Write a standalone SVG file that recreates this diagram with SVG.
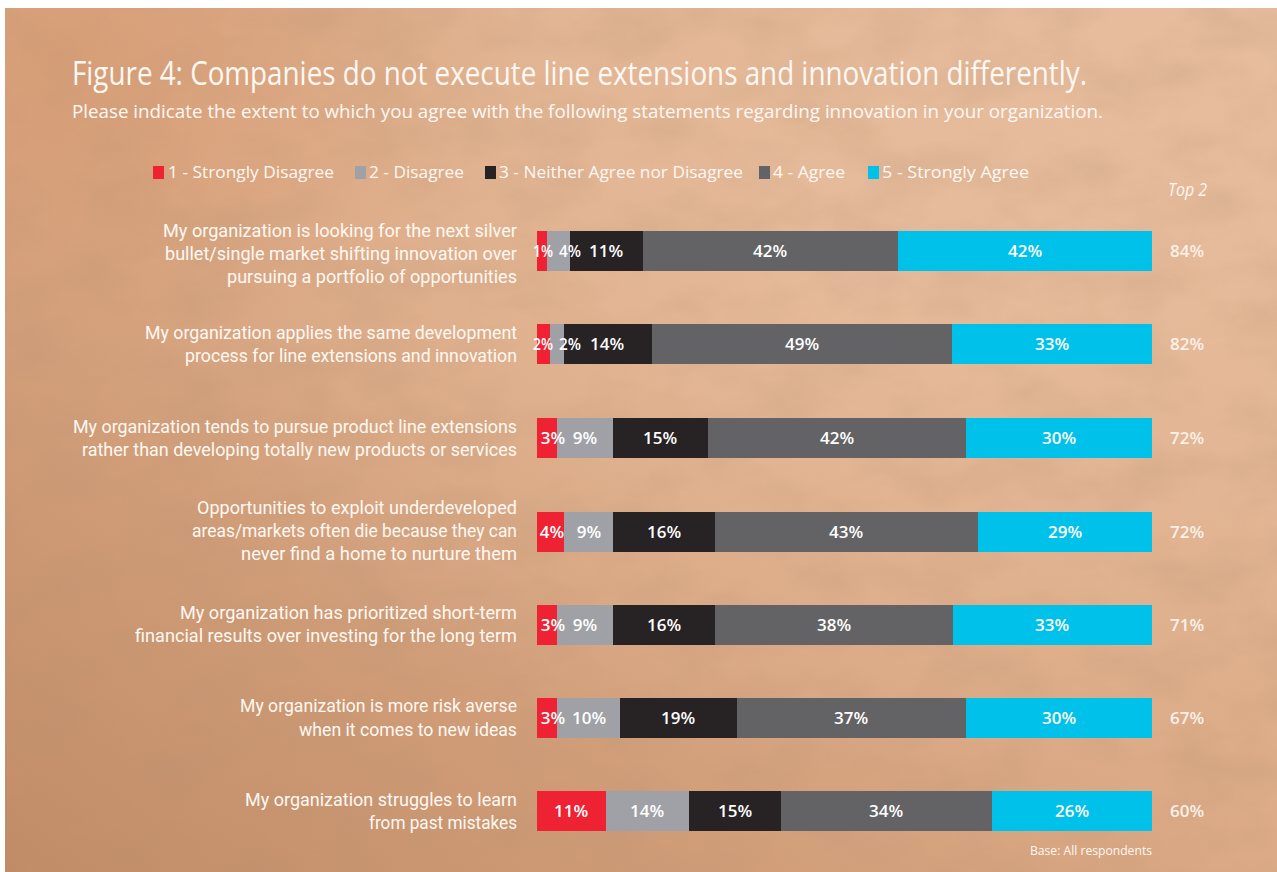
<svg xmlns="http://www.w3.org/2000/svg" width="1277" height="872" viewBox="0 0 1277 872">
<defs>
<linearGradient id="bg" x1="1" y1="0" x2="0" y2="1">
<stop offset="0" stop-color="#E6BC9C"/>
<stop offset="0.5" stop-color="#DCAA86"/>
<stop offset="1" stop-color="#C18C67"/>
</linearGradient>
<radialGradient id="hl" cx="0.7" cy="0.3" r="0.6">
<stop offset="0" stop-color="#EBC4A6" stop-opacity="0.55"/>
<stop offset="1" stop-color="#EBC4A6" stop-opacity="0"/>
</radialGradient>
<radialGradient id="tl" cx="0.05" cy="0.05" r="0.35">
<stop offset="0" stop-color="#D4976E" stop-opacity="0.6"/>
<stop offset="1" stop-color="#D4976E" stop-opacity="0"/>
</radialGradient>
<filter id="noise" x="0" y="0" width="100%" height="100%">
<feTurbulence type="fractalNoise" baseFrequency="0.012 0.02" numOctaves="4" seed="7"/>
<feColorMatrix type="matrix" values="0 0 0 0 0.45  0 0 0 0 0.28  0 0 0 0 0.16  0 0 0 -1.2 0.75"/>
</filter>
</defs>
<style>
.t{fill:#FFF8F2;font-family:"Open Sans","Liberation Sans",sans-serif}
.lab{fill:#FFF8F2;font-family:Roboto,"Liberation Sans",sans-serif;font-size:17.5px;text-anchor:end}
.pct{fill:#FFFFFF;font-family:"Open Sans","Liberation Sans",sans-serif;font-size:17px;font-weight:600;text-anchor:middle}
.top{fill:#FBF1E8;font-family:"Open Sans","Liberation Sans",sans-serif;font-size:17px;font-weight:600;text-anchor:middle}
.c1{fill:#EE2233}.c2{fill:#A0A1A6}.c3{fill:#272325}.c4{fill:#636365}.c5{fill:#00C1E9}
</style>
<rect x="0" y="0" width="1277" height="872" fill="#FFFFFF"/>
<rect x="5" y="8" width="1272" height="864" fill="url(#bg)"/>
<rect x="5" y="8" width="1272" height="864" fill="url(#hl)"/>
<rect x="5" y="8" width="1272" height="864" fill="url(#tl)"/>
<rect x="5" y="8" width="1272" height="864" filter="url(#noise)" opacity="0.35"/>

<g id="title">
<text class="t" x="72" y="85" font-size="32" textLength="1015" lengthAdjust="spacingAndGlyphs">Figure 4: Companies do not execute line extensions and innovation differently.</text>
<text class="t" x="72" y="118" font-size="18" textLength="1031" lengthAdjust="spacingAndGlyphs">Please indicate the extent to which you agree with the following statements regarding innovation in your organization.</text>
</g>

<g id="legend">
<rect class="c1" x="153" y="166" width="11" height="13"/>
<text class="t" x="168" y="178" font-size="17" textLength="166" lengthAdjust="spacingAndGlyphs">1 - Strongly Disagree</text>
<rect class="c2" x="355" y="166" width="11" height="13"/>
<text class="t" x="369" y="178" font-size="17" textLength="95" lengthAdjust="spacingAndGlyphs">2 - Disagree</text>
<rect class="c3" x="485" y="166" width="11" height="13"/>
<text class="t" x="499" y="178" font-size="17" textLength="244" lengthAdjust="spacingAndGlyphs">3 - Neither Agree nor Disagree</text>
<rect class="c4" x="759" y="166" width="11" height="13"/>
<text class="t" x="773" y="178" font-size="17" textLength="72" lengthAdjust="spacingAndGlyphs">4 - Agree</text>
<rect class="c5" x="868" y="166" width="11" height="13"/>
<text class="t" x="882" y="178" font-size="17" textLength="147" lengthAdjust="spacingAndGlyphs">5 - Strongly Agree</text>
<text class="t" x="1168" y="196" font-size="18" font-style="italic" textLength="39" lengthAdjust="spacingAndGlyphs">Top 2</text>
</g>

<g id="row1">
<text class="lab" x="517" y="237" textLength="354" lengthAdjust="spacingAndGlyphs">My organization is looking for the next silver</text>
<text class="lab" x="517" y="260" textLength="352" lengthAdjust="spacingAndGlyphs">bullet/single market shifting innovation over</text>
<text class="lab" x="517" y="283" textLength="290" lengthAdjust="spacingAndGlyphs">pursuing a portfolio of opportunities</text>
<rect class="c1" x="537" y="231" width="10" height="40"/>
<rect class="c2" x="547" y="231" width="23" height="40"/>
<rect class="c3" x="570" y="231" width="73" height="40"/>
<rect class="c4" x="643" y="231" width="255" height="40"/>
<rect class="c5" x="898" y="231" width="254" height="40"/>
<text class="pct" x="543" y="257" textLength="20" lengthAdjust="spacingAndGlyphs">1%</text>
<text class="pct" x="570" y="257" textLength="22" lengthAdjust="spacingAndGlyphs">4%</text>
<text class="pct" x="606" y="257">11%</text>
<text class="pct" x="770" y="257">42%</text>
<text class="pct" x="1025" y="257">42%</text>
<text class="top" x="1187" y="257">84%</text>
</g>

<g id="row2">
<text class="lab" x="517" y="339" textLength="372" lengthAdjust="spacingAndGlyphs">My organization applies the same development</text>
<text class="lab" x="517" y="362" textLength="332" lengthAdjust="spacingAndGlyphs">process for line extensions and innovation</text>
<rect class="c1" x="537" y="324" width="13" height="40"/>
<rect class="c2" x="550" y="324" width="14" height="40"/>
<rect class="c3" x="564" y="324" width="88" height="40"/>
<rect class="c4" x="652" y="324" width="300" height="40"/>
<rect class="c5" x="952" y="324" width="200" height="40"/>
<text class="pct" x="543" y="350" textLength="20" lengthAdjust="spacingAndGlyphs">2%</text>
<text class="pct" x="570" y="350" textLength="22" lengthAdjust="spacingAndGlyphs">2%</text>
<text class="pct" x="607" y="350">14%</text>
<text class="pct" x="802" y="350">49%</text>
<text class="pct" x="1052" y="350">33%</text>
<text class="top" x="1187" y="350">82%</text>
</g>

<g id="row3">
<text class="lab" x="517" y="433" textLength="444" lengthAdjust="spacingAndGlyphs">My organization tends to pursue product line extensions</text>
<text class="lab" x="517" y="456" textLength="435" lengthAdjust="spacingAndGlyphs">rather than developing totally new products or services</text>
<rect class="c1" x="537" y="418" width="20" height="40"/>
<rect class="c2" x="557" y="418" width="56" height="40"/>
<rect class="c3" x="613" y="418" width="95" height="40"/>
<rect class="c4" x="708" y="418" width="258" height="40"/>
<rect class="c5" x="966" y="418" width="186" height="40"/>
<text class="pct" x="553" y="444">3%</text>
<text class="pct" x="585" y="444">9%</text>
<text class="pct" x="660" y="444">15%</text>
<text class="pct" x="837" y="444">42%</text>
<text class="pct" x="1059" y="444">30%</text>
<text class="top" x="1187" y="444">72%</text>
</g>

<g id="row4">
<text class="lab" x="517" y="514" textLength="320" lengthAdjust="spacingAndGlyphs">Opportunities to exploit underdeveloped</text>
<text class="lab" x="517" y="537" textLength="325" lengthAdjust="spacingAndGlyphs">areas/markets often die because they can</text>
<text class="lab" x="517" y="560" textLength="276" lengthAdjust="spacingAndGlyphs">never find a home to nurture them</text>
<rect class="c1" x="537" y="512" width="27" height="40"/>
<rect class="c2" x="564" y="512" width="49" height="40"/>
<rect class="c3" x="613" y="512" width="102" height="40"/>
<rect class="c4" x="715" y="512" width="263" height="40"/>
<rect class="c5" x="978" y="512" width="174" height="40"/>
<text class="pct" x="552" y="538">4%</text>
<text class="pct" x="589" y="538">9%</text>
<text class="pct" x="664" y="538">16%</text>
<text class="pct" x="846" y="538">43%</text>
<text class="pct" x="1065" y="538">29%</text>
<text class="top" x="1187" y="538">72%</text>
</g>

<g id="row5">
<text class="lab" x="517" y="619" textLength="337" lengthAdjust="spacingAndGlyphs">My organization has prioritized short-term</text>
<text class="lab" x="517" y="642" textLength="382" lengthAdjust="spacingAndGlyphs">financial results over investing for the long term</text>
<rect class="c1" x="537" y="605" width="20" height="40"/>
<rect class="c2" x="557" y="605" width="56" height="40"/>
<rect class="c3" x="613" y="605" width="102" height="40"/>
<rect class="c4" x="715" y="605" width="238" height="40"/>
<rect class="c5" x="953" y="605" width="199" height="40"/>
<text class="pct" x="553" y="631">3%</text>
<text class="pct" x="585" y="631">9%</text>
<text class="pct" x="664" y="631">16%</text>
<text class="pct" x="834" y="631">38%</text>
<text class="pct" x="1052" y="631">33%</text>
<text class="top" x="1187" y="631">71%</text>
</g>

<g id="row6">
<text class="lab" x="517" y="712" textLength="277" lengthAdjust="spacingAndGlyphs">My organization is more risk averse</text>
<text class="lab" x="517" y="736" textLength="218" lengthAdjust="spacingAndGlyphs">when it comes to new ideas</text>
<rect class="c1" x="537" y="698" width="20" height="40"/>
<rect class="c2" x="557" y="698" width="63" height="40"/>
<rect class="c3" x="620" y="698" width="117" height="40"/>
<rect class="c4" x="737" y="698" width="229" height="40"/>
<rect class="c5" x="966" y="698" width="186" height="40"/>
<text class="pct" x="553" y="724">3%</text>
<text class="pct" x="589" y="724">10%</text>
<text class="pct" x="678" y="724">19%</text>
<text class="pct" x="851" y="724">37%</text>
<text class="pct" x="1059" y="724">30%</text>
<text class="top" x="1187" y="724">67%</text>
</g>

<g id="row7">
<text class="lab" x="517" y="806" textLength="272" lengthAdjust="spacingAndGlyphs">My organization struggles to learn</text>
<text class="lab" x="517" y="829" textLength="148" lengthAdjust="spacingAndGlyphs">from past mistakes</text>
<rect class="c1" x="537" y="791" width="69" height="40"/>
<rect class="c2" x="606" y="791" width="83" height="40"/>
<rect class="c3" x="689" y="791" width="92" height="40"/>
<rect class="c4" x="781" y="791" width="211" height="40"/>
<rect class="c5" x="992" y="791" width="160" height="40"/>
<text class="pct" x="571" y="817">11%</text>
<text class="pct" x="647" y="817">14%</text>
<text class="pct" x="735" y="817">15%</text>
<text class="pct" x="886" y="817">34%</text>
<text class="pct" x="1072" y="817">26%</text>
<text class="top" x="1187" y="817">60%</text>
</g>

<g id="footnote">
<text class="t" x="1030" y="855" font-size="12" textLength="122" lengthAdjust="spacingAndGlyphs">Base: All respondents</text>
</g>
</svg>
